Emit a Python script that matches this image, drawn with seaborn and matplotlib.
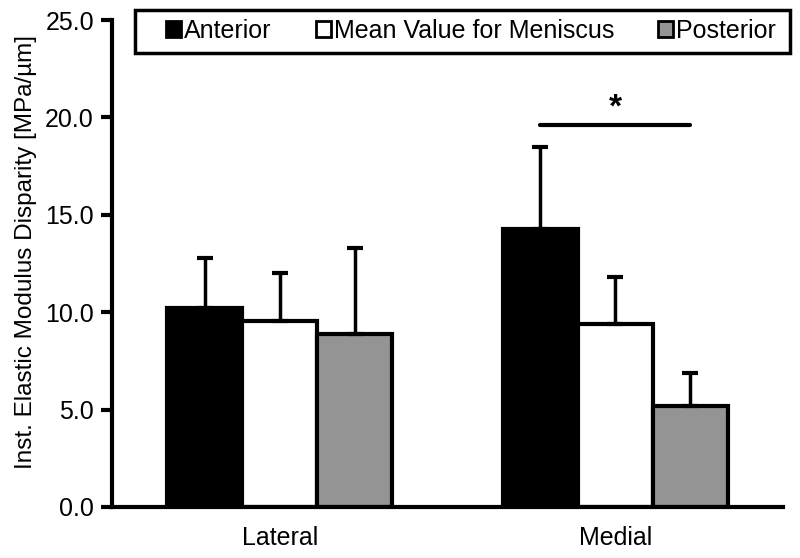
import numpy as np
import pandas as pd
import seaborn as sns
import matplotlib.pyplot as plt
from matplotlib.patches import Rectangle

sns.set_style("white")
plt.rcParams['font.family'] = ['Liberation Sans', 'DejaVu Sans']
plt.rcParams.update({"text.color": "black", "axes.labelcolor": "black",
                     "xtick.color": "black", "ytick.color": "black"})

# data
regions = ["Lateral", "Medial"]
groups = ["Anterior", "Mean Value for Meniscus", "Posterior"]
anterior = [10.2, 14.25]
mean_val = [9.55, 9.4]
posterior = [8.9, 5.2]
anterior_sd = [2.6, 4.25]
mean_sd = [2.45, 2.4]
posterior_sd = [4.4, 1.7]
colors = ["#000000", "#ffffff", "#949494"]
sig_y = 19.6

df = pd.DataFrame({
    "region": regions * 3,
    "group": [g for g in groups for _ in regions],
    "value": anterior + mean_val + posterior,
    "sd": anterior_sd + mean_sd + posterior_sd,
})

fig = plt.figure(figsize=(8, 5.58), dpi=100)
ax = fig.add_axes([0.14, 0.0914, 0.839, 0.8727])

sns.barplot(data=df, x="region", y="value", hue="group", palette=colors,
            width=0.67, edgecolor="black", linewidth=3, errorbar=None,
            saturation=1, ax=ax)

# upper-only error bars, read positions from the drawn bars
centers = []
for cont, g in zip(ax.containers, groups):
    sub = df[df["group"] == g]
    xs = [p.get_x() + p.get_width() / 2 for p in cont.patches]
    centers.append(xs)
    ax.errorbar(xs, sub["value"], yerr=[np.zeros(len(sub)), sub["sd"]],
                fmt="none", ecolor="black", elinewidth=2.5, capsize=6,
                capthick=3, zorder=1)

# significance marker: medial anterior vs posterior
x0, x1 = centers[0][1], centers[2][1]
ax.plot([x0, x1], [sig_y, sig_y], color="black", lw=3)
ax.text((x0 + x1) / 2, sig_y + 0.1, "*", ha="center", va="bottom",
        fontsize=24, fontweight="bold")

ax.set_ylim(0, 25)
ax.set_xlim(-0.5, 1.5)
ax.set_yticks(np.arange(0, 26, 5))
ax.set_yticklabels([f"{v:.1f}" for v in np.arange(0, 26, 5)], fontsize=18)
ax.set_xticks([-0.5, 0.5, 1.5])
ax.set_xticklabels([])
ax.set_xticks([0, 1], minor=True)
ax.set_xticklabels(regions, minor=True, fontsize=18)
ax.tick_params(axis="x", which="minor", length=0, pad=14)
ax.tick_params(axis="x", which="major", direction="out", length=7, width=3)
ax.tick_params(axis="y", direction="out", length=8, width=3, left=True, pad=5)
ax.set_xlabel("")
ax.set_ylabel("Inst. Elastic Modulus Disparity [MPa/\u00b5m]", fontsize=17.5, labelpad=6)
ax.yaxis.label.set_y(0.524)

for s in ["top", "right"]:
    ax.spines[s].set_visible(False)
for s in ["left", "bottom"]:
    ax.spines[s].set_linewidth(3)
    ax.spines[s].set_color("black")

handles, labels = ax.get_legend_handles_labels()
ax.get_legend().remove()
leg = fig.legend(handles, labels, loc="center", bbox_to_anchor=(471 / 800, 1 - 31 / 558),
                 ncol=3, fontsize=18, frameon=False,
                 handlelength=0.6, handleheight=0.6, handletextpad=0.12,
                 columnspacing=1.75, borderpad=0.35)
for h in leg.legend_handles:
    h.set_linewidth(2)
fig.patches.append(Rectangle((135 / 800, 1 - 53 / 558), 655 / 800, 43 / 558,
                             transform=fig.transFigure, fill=False,
                             edgecolor="black", linewidth=2.5))

fig.savefig("out.png", dpi=100)
